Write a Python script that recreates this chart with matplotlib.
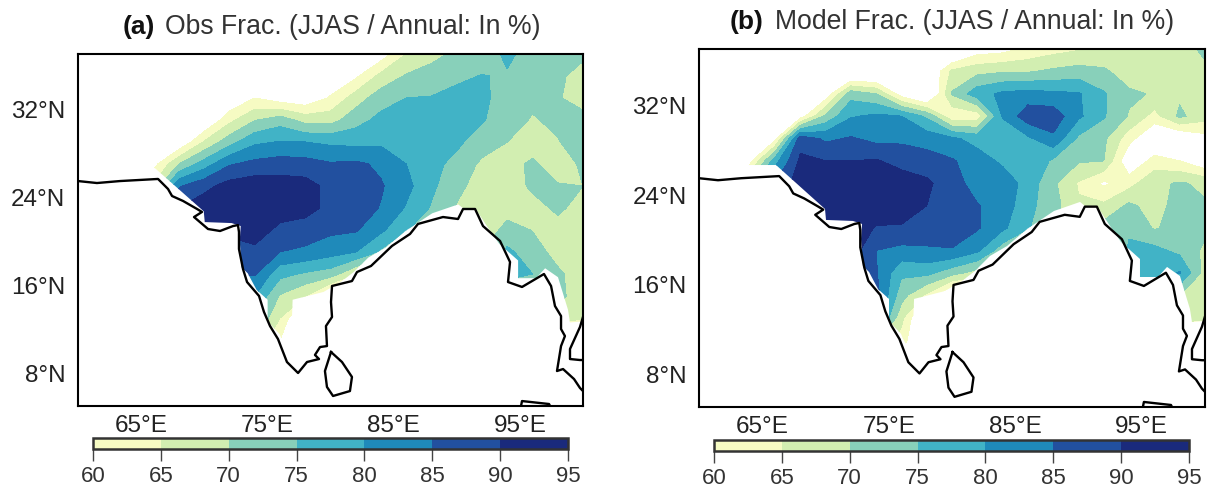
import matplotlib
matplotlib.use('Agg')
import matplotlib.pyplot as plt
from matplotlib.colors import ListedColormap, BoundaryNorm
from matplotlib.patches import Polygon
import numpy as np

plt.rcParams['font.family'] = ['Liberation Sans', 'DejaVu Sans']

W, H = 1207, 489

lons = [60, 62, 64, 66, 68, 70, 72, 74, 76, 78, 80, 82, 84, 86, 88, 90, 92, 94, 96, 98, 100]
lats = [37, 35, 33, 31, 29, 27, 25, 23, 21, 19, 17, 15, 13, 11, 9, 7, 5]

# JJAS fraction, 50 = below the first level (white)
obs_frac = [
    [50, 50, 50, 50, 50, 50, 50, 50, 50, 50, 50, 52, 57, 65, 68.5, 71, 72.5, 76, 73, 71, 71],
    [50, 50, 50, 50, 50, 50, 50, 50, 50, 50, 56, 59, 66.5, 70.5, 72, 74, 75.2, 74.5, 72, 71, 68],
    [50, 50, 50, 50, 50, 50, 55, 60, 57, 56, 60.5, 67.5, 72.7, 75, 75.3, 76.5, 76, 73, 71, 70.5, 67.5],
    [50, 50, 50, 50, 50, 54, 63.5, 69.7, 72.7, 68, 68, 73, 76.5, 76.5, 77, 77, 75.5, 72, 69.6, 71, 72],
    [50, 50, 50, 50, 55, 65.5, 73, 79, 80.3, 80, 79, 78.5, 79, 78, 77, 76, 72.5, 70, 67, 69.7, 72.5],
    [50, 50, 50, 58, 70, 77.5, 84.5, 86.5, 87.4, 87, 85.5, 86, 84, 80, 76.5, 73.5, 69, 68, 71, 67, 71],
    [50, 50, 56, 66, 84.5, 88.5, 92, 93, 92.5, 92, 88.5, 87.5, 85.5, 81.5, 76, 71.5, 67.5, 67, 71, 70.5, 70],
    [50, 50, 60, 75, 90, 93, 94.5, 94.5, 93, 92, 88.5, 87.5, 84.7, 79.5, 74.5, 69.5, 67, 67.5, 68, 71, 68],
    [50, 50, 60, 75, 88, 91, 91, 93, 88.5, 87.5, 86, 85.5, 81, 75.3, 72, 69, 66, 72, 69.8, 68, 67.5],
    [50, 50, 50, 70, 80, 85, 88, 88.5, 85, 84, 82, 80, 74, 70, 68, 68, 70, 76, 72.5, 68, 67],
    [50, 50, 50, 60, 70, 80, 85, 85.5, 76.5, 74.3, 72.5, 65, 55, 55, 60, 65, 72, 76, 75, 71, 67],
    [50, 50, 50, 50, 50, 60, 70, 80, 69.5, 65, 55, 50, 50, 50, 50, 50, 60, 72, 72, 72, 66],
    [50, 50, 50, 50, 50, 50, 60, 76, 65, 50, 50, 50, 50, 50, 50, 50, 50, 50, 68, 68, 65.5],
    [50, 50, 50, 50, 50, 50, 50, 70, 60, 50, 50, 50, 50, 50, 50, 50, 50, 50, 50, 55, 50],
    [50] * 21,
    [50] * 21,
    [50] * 21,
]

model_frac = [
    [50, 50, 50, 50, 50, 50, 50, 50, 50, 50, 50, 57, 58, 61, 63, 64.5, 65, 66.5, 67, 66, 72],
    [50, 50, 50, 50, 50, 50, 50, 50, 50, 53, 66, 68.5, 69.5, 69.5, 71, 72, 71, 67, 65.5, 65.5, 68],
    [50, 50, 50, 50, 50, 56, 73, 70, 57, 50, 70.5, 78, 81, 82, 81, 80.5, 75.5, 71, 69.5, 69, 66],
    [50, 50, 50, 50, 57, 71, 79.5, 81, 80, 74, 61, 62, 80.5, 88, 88, 81, 75.5, 69.5, 63, 71, 67],
    [50, 50, 50, 58, 88, 84, 85.5, 83.5, 84, 83, 81, 78, 75.5, 79, 84, 74, 71, 62, 54, 54, 58],
    [50, 50, 58, 78, 91, 90, 90, 90.5, 88, 87, 85.5, 82.5, 79, 80, 74, 70.5, 70, 55, 62, 60, 55],
    [50, 50, 70, 85, 93, 94, 94, 94, 93, 91, 87, 83, 83, 78, 71, 64.5, 59, 63, 69, 70.5, 69],
    [50, 60, 75, 88, 93, 94, 94, 94, 92.5, 90, 87, 85.3, 83, 76.5, 72, 65.5, 66, 71, 68, 72, 70.5],
    [50, 60, 75, 85, 90, 92, 94, 89.5, 89.5, 87, 86.5, 85.5, 81, 75.5, 70, 70, 72, 74.5, 69.5, 72, 71],
    [50, 50, 70, 80, 88, 90, 93, 85, 83.5, 84.5, 84.8, 81, 72, 65, 60, 60, 70, 75.5, 76.5, 73.5, 69],
    [50, 50, 60, 70, 80, 88, 92, 85.5, 76, 76.5, 72, 68, 55, 50, 50, 55, 65, 78, 76.5, 80.5, 68],
    [50, 50, 50, 60, 70, 80, 90, 87, 72, 64, 53, 50, 50, 50, 50, 50, 55, 76, 74, 70, 68],
    [50, 50, 50, 50, 50, 60, 75, 84, 66.5, 50, 50, 50, 50, 50, 50, 50, 50, 50, 60, 68, 66],
    [50, 50, 50, 50, 50, 50, 60, 70, 63, 50, 50, 50, 50, 50, 50, 50, 50, 50, 50, 55, 55],
    [50, 50, 50, 50, 50, 50, 50, 50, 58, 50, 50, 50, 50, 50, 50, 50, 50, 50, 50, 50, 50],
    [50] * 21,
    [50] * 21,
]

levels = [60, 65, 70, 75, 80, 85, 90, 95]
colors = ['#F6FBC3', '#D2EEB1', '#88D0BA', '#41B3C6', '#1F8ABA', '#22509F', '#1A2A7C']

# coastlines
coast_lon = [60, 61.5, 63.33, 66.34, 67.13, 67.45, 68.32, 69.43, 69.82, 69.19, 70.3, 71.25, 72.28, 72.67,
             72.75, 72.75, 73.07, 73.39, 74.34, 74.73, 75.21, 75.84, 76.55, 77.43, 78.14, 79.09, 78.77,
             79.17, 79.72, 79.64, 80.12, 80.04, 80.12, 81.7, 82.1, 83.21, 84.87, 86.3, 86.93, 88.91, 90.1,
             90.5, 91.45, 92.08, 93.43, 94.22, 94.06, 95.17, 96.91, 97.47, 97.78, 98.26, 98.26, 98.57,
             98.26, 97.94, 98.42, 99.29, 99.76, 100]
coast_lat = [25.45, 25.27, 25.45, 25.64, 24.73, 24.09, 23.64, 22.91, 22.64, 22.18, 21.09, 20.91, 21.36, 21.45,
             20.82, 19.27, 17.45, 16.27, 15.0, 13.55, 12.27, 11.09, 9.0, 8.0, 9.0, 9.27, 9.64,
             10.36, 10.45, 12.27, 13.09, 14.45, 15.91, 16.36, 17.18, 17.73, 19.55, 20.64, 21.55, 22.18, 22.0,
             22.91, 22.91, 21.36, 20.0, 18.09, 16.27, 15.82, 17.0, 15.91, 14.09, 13.18, 12.0, 11.36,
             10.45, 8.18, 8.36, 7.45, 6.64, 6.36]
sri_lon = [80.04, 80.91, 81.7, 81.54, 80.2, 79.72, 79.56, 80.04]
sri_lat = [9.91, 9.0, 7.64, 6.36, 5.91, 6.73, 8.18, 9.91]
malay_lon = [100, 99.76, 98.97, 98.97, 99.76, 100]
malay_lat = [13.1, 12.18, 10.18, 9.27, 9.18, 9.18]
sumatra_lon = [95.09, 95.17, 97.31, 97.39]
sumatra_lat = [5.0, 5.45, 5.18, 5.0]

# edge of the land mask, the fields stop here
mask_lon = [60, 100, 100, 98.97, 98.81, 98.02, 97.0, 96.28, 94.86, 94.86, 93.36, 92.49, 91.46, 90.51, 90.12,
            88.06, 85.93, 84.35, 83.0, 81.82, 80.79, 79.45, 77.0, 76.84, 76.13, 75.97, 75.02, 75.02, 74.15,
            73.44, 72.96, 72.81, 72.89, 72.17, 70.04, 69.96, 66.09, 63.87, 60]
mask_lat = [37, 37, 12.69, 12.6, 13.76, 16.71, 17.52, 16.62, 16.62, 18.23, 19.75, 21.18, 22.97, 22.97, 23.33,
            22.52, 20.91, 19.39, 18.5, 17.16, 16.27, 15.37, 14.66, 9.74, 11.08, 11.53, 12.69, 14.66, 15.55,
            17.07, 17.6, 20.02, 21.36, 21.63, 21.72, 22.7, 26.63, 26.63, 26.63]

xticks = [65, 75, 85, 95]
yticks = [8, 16, 24, 32]

cmap = ListedColormap(colors)
norm = BoundaryNorm(levels, cmap.N)


def px_axes(fig, left, top, right, bottom):
    return fig.add_axes([left / W, 1 - bottom / H, (right - left) / W, (bottom - top) / H])


def draw_panel(fig, field, box, cbox, tag, title, tag_x, title_x, title_y):
    ax = px_axes(fig, *box)
    cs = ax.contourf(lons, lats, np.array(field), levels=levels, cmap=cmap, norm=norm)
    mask = Polygon(np.column_stack([mask_lon, mask_lat]), closed=True, transform=ax.transData,
                   fc='none', ec='none')
    ax.add_patch(mask)
    cs.set_clip_path(mask)

    ax.plot(coast_lon, coast_lat, color='black', lw=1.7)
    ax.plot(sri_lon, sri_lat, color='black', lw=1.7)
    ax.plot(malay_lon, malay_lat, color='black', lw=1.7)
    ax.plot(sumatra_lon, sumatra_lat, color='black', lw=1.7)

    ax.set_xlim(60, 100)
    ax.set_ylim(5, 37)
    ax.set_xticks(xticks)
    ax.set_xticklabels([f'{v}°E' for v in xticks])
    ax.set_yticks(yticks)
    ax.set_yticklabels([f'{v}°N' for v in yticks])
    ax.tick_params(axis='both', length=0, labelsize=17.5, labelcolor='#222222')
    ax.tick_params(axis='x', pad=6)
    ax.tick_params(axis='y', pad=9)
    for s in ax.spines.values():
        s.set_linewidth(1.5)

    cax = px_axes(fig, *cbox)
    cb = fig.colorbar(cs, cax=cax, orientation='horizontal', ticks=levels)
    cb.outline.set_linewidth(1.8)
    cb.outline.set_edgecolor('#333333')
    cb.ax.tick_params(length=8.5, width=1, color='#444444', labelsize=16, labelcolor='#333333', pad=3)
    cb.ax.set_xticklabels([str(v) for v in levels])

    fig.text(tag_x / W, 1 - title_y / H, tag, fontsize=19, fontweight='bold', color='#111111',
             ha='left', va='center')
    fig.text(title_x / W, 1 - title_y / H, title, fontsize=19.2, color='#333333',
             ha='left', va='center')


fig = plt.figure(figsize=(W / 100, H / 100), dpi=100)

draw_panel(fig, obs_frac, (78, 55, 583, 407), (93, 439, 568, 450), '(a)',
           'Obs Frac. (JJAS / Annual: In %)', 123, 165, 27)
draw_panel(fig, model_frac, (699, 50, 1205, 408), (714, 441, 1189, 452), '(b)',
           'Model Frac. (JJAS / Annual: In %)', 730, 775, 22)

fig.savefig('out.png', dpi=100)
